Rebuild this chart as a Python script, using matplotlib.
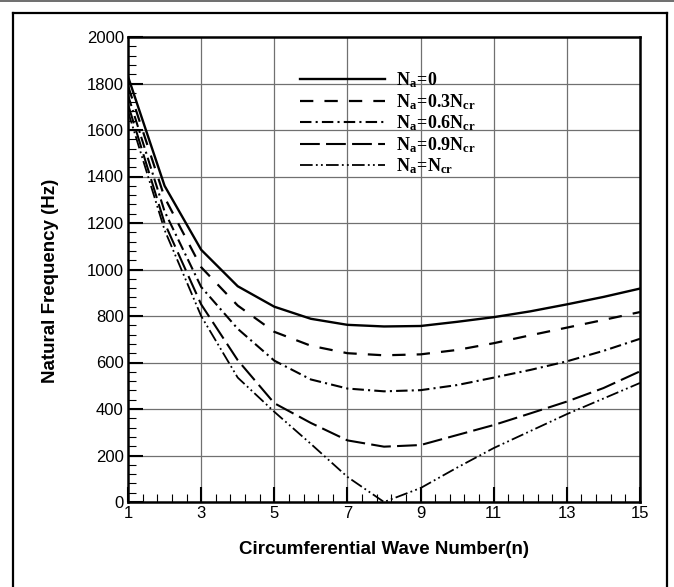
import numpy as np
import matplotlib
matplotlib.use("Agg")
import matplotlib.pyplot as plt
from matplotlib.ticker import FixedLocator, MultipleLocator
from matplotlib.lines import Line2D

# ---- data ----
n = [1, 2, 3, 4, 5, 6, 7, 8, 9, 10, 11, 12, 13, 14, 15]
na_0 = [1830, 1360, 1085, 928, 840, 788, 762, 755, 757, 775, 795, 820, 850, 882, 918]
na_03 = [1790, 1310, 1010, 845, 732, 672, 640, 631, 635, 654, 683, 717, 750, 783, 817]
na_06 = [1750, 1250, 925, 745, 608, 527, 488, 476, 481, 503, 535, 568, 605, 650, 702]
na_09 = [1710, 1200, 850, 610, 425, 340, 265, 238, 245, 288, 331, 381, 432, 490, 562]
na_cr = [1680, 1170, 800, 535, 388, 250, 108, 0, 60, 148, 232, 305, 378, 445, 512]
labels = [r'$\mathrm{N_a\!=\!0}$', r'$\mathrm{N_a\!=\!0.3N_{cr}}$', r'$\mathrm{N_a\!=\!0.6N_{cr}}$',
          r'$\mathrm{N_a\!=\!0.9N_{cr}}$', r'$\mathrm{N_a\!=\!N_{cr}}$']
xticks = [1, 3, 5, 7, 9, 11, 13, 15]
yticks = [0, 200, 400, 600, 800, 1000, 1200, 1400, 1600, 1800, 2000]

plt.rcParams['font.family'] = ['Liberation Sans', 'DejaVu Sans']
plt.rcParams['mathtext.fontset'] = 'custom'
plt.rcParams['mathtext.rm'] = 'Liberation Serif:bold'
plt.rcParams['mathtext.it'] = 'Liberation Serif:bold'
plt.rcParams['mathtext.bf'] = 'Liberation Serif:bold'

fig = plt.figure(figsize=(6.74, 5.87), dpi=100)
W, H = 674, 587
ax = fig.add_axes([128 / W, (H - 502) / H, 512 / W, 465 / H])

styles = [
    dict(ls='-', lw=1.7),
    dict(ls=(0, (6, 5)), lw=1.6),
    dict(ls=(0, (5.5, 2, 1, 2)), lw=1.5),
    dict(ls=(0, (9.5, 3)), lw=1.5),
    dict(ls=(0, (7, 1.8, 1, 1.8, 1, 1.8)), lw=1.3),
]
series = [na_0, na_03, na_06, na_09, na_cr]
for s, st, lab in zip(series, styles, labels):
    ax.plot(n, s, color='black', label=lab, zorder=3, **st)

ax.set_xlim(1, 15)
ax.set_ylim(0, 2000)
ax.set_xticks(xticks)
ax.set_yticks(yticks)
ax.xaxis.set_minor_locator(FixedLocator(np.arange(1, 15.001, 0.4)))
ax.yaxis.set_minor_locator(MultipleLocator(40))
ax.tick_params(which='both', direction='in', top=False, right=False, labelsize=12, pad=3)
ax.tick_params(which='major', length=11, width=1.5)
ax.tick_params(which='minor', length=6, width=0.8)
for sp in ax.spines.values():
    sp.set_linewidth(1.8)

for xv in xticks[1:-1]:
    ax.axvline(xv, color='#707070', lw=0.9, zorder=1)
for yv in yticks[1:-1]:
    ax.axhline(yv, color='#707070', lw=0.9, zorder=1)

ax.set_xlabel('Circumferential Wave Number(n)', fontsize=13.5, fontweight='bold', labelpad=14)
ax.set_ylabel('Natural Frequency (Hz)', fontsize=13.5, fontweight='bold')
ax.yaxis.set_label_coords(-0.134, 0.475)

leg = ax.legend(loc='upper left', bbox_to_anchor=(0.336, 0.928), frameon=False,
                fontsize=13, handlelength=4.7, handletextpad=0.6, labelspacing=0.1,
                borderpad=0, borderaxespad=0)

# outer frame
fc = 'black'
fig.add_artist(Line2D([13 / W, 13 / W], [0, 1 - 13 / H], color=fc, lw=1.6))
fig.add_artist(Line2D([667 / W, 667 / W], [0, 1 - 13 / H], color=fc, lw=1.6))
fig.add_artist(Line2D([13 / W, 667 / W], [1 - 13 / H, 1 - 13 / H], color=fc, lw=1.6))
fig.add_artist(Line2D([0, 1], [1 - 0.8 / H, 1 - 0.8 / H], color='#555555', lw=1.2))

fig.savefig('out.png', dpi=100)
